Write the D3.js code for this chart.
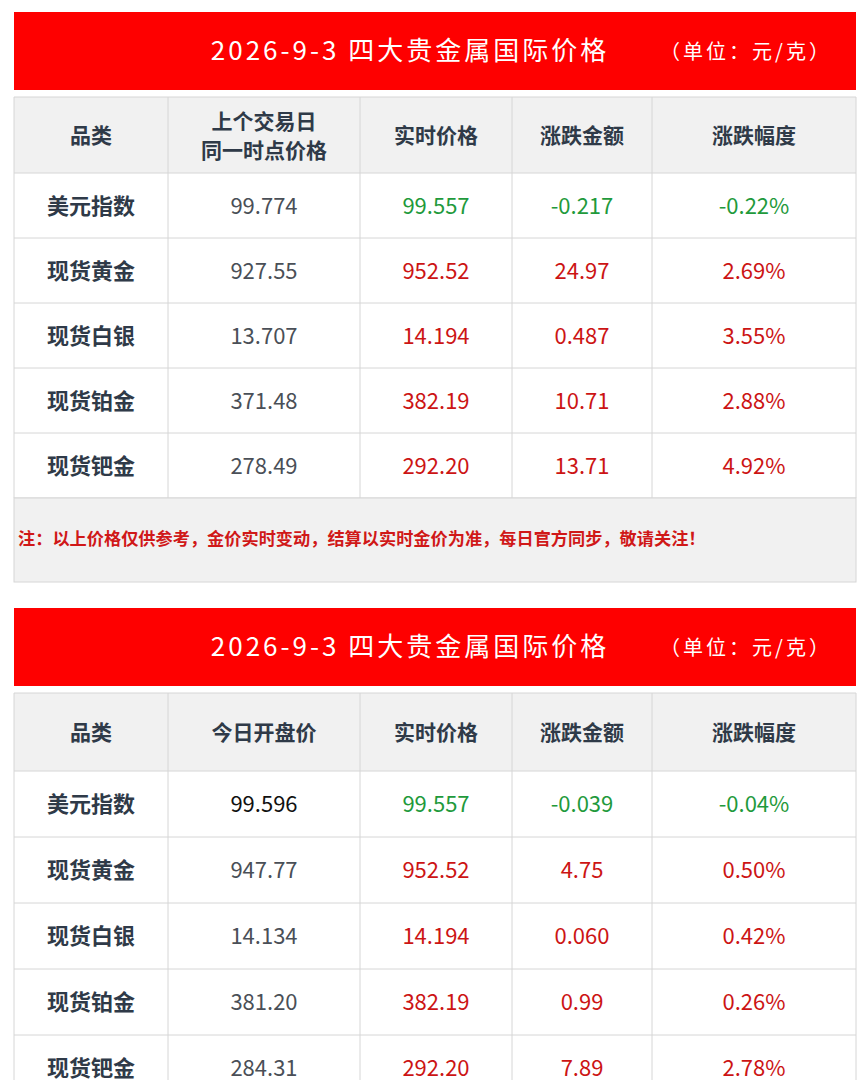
<!DOCTYPE html>
<html><head><meta charset="utf-8">
<script src="https://cdn.jsdelivr.net/npm/d3@7"></script>
<style>body{margin:0;background:#fff}svg{display:block}</style></head>
<body><script>
const categories=["美元指数","现货黄金","现货白银","现货铂金","现货钯金"];
const title="2026-9-3 四大贵金属国际价格";
const unit="（单位：元/克）";
const header1=["品类","上个交易日\n同一时点价格","实时价格","涨跌金额","涨跌幅度"];
const header2=["品类","今日开盘价","实时价格","涨跌金额","涨跌幅度"];
const prev1=["99.774","927.55","13.707","371.48","278.49"];
const now1=["99.557","952.52","14.194","382.19","292.20"];
const chg1=["-0.217","24.97","0.487","10.71","13.71"];
const pct1=["-0.22%","2.69%","3.55%","2.88%","4.92%"];
const open2=["99.596","947.77","14.134","381.20","284.31"];
const now2=["99.557","952.52","14.194","382.19","292.20"];
const chg2=["-0.039","4.75","0.060","0.99","7.89"];
const pct2=["-0.04%","0.50%","0.42%","0.26%","2.78%"];
const note="注：以上价格仅供参考，金价实时变动，结算以实时金价为准，每日官方同步，敬请关注！";

const W=858,H=1080;
const svg=d3.select("body").append("svg").attr("width",W).attr("height",H);
const font="'Noto Sans CJK SC','Noto Sans',sans-serif";
const xb=[14,168,360,512,652,856];
const GREEN="#1f9a3c",RED="#cc1414",GRAY="#4a4f57",DARK="#2f3a48";

function table(y0,header,cols,opts){
  const g=svg.append("g");
  g.append("rect").attr("x",14).attr("y",y0).attr("width",842).attr("height",78).attr("fill","#fe0000");
  g.append("text").attr("x",410).attr("y",y0+48).attr("text-anchor","middle").attr("font-family",font)
   .attr("font-size",26).attr("fill","#fff").attr("letter-spacing",3).text(title);
  g.append("text").attr("x",746).attr("y",y0+47).attr("text-anchor","middle").attr("font-family",font)
   .attr("font-size",20).attr("fill","#fff").attr("letter-spacing",3).text(unit);
  const hy=y0+85, hh=opts.hh, rh=opts.rh;
  const rowTop=i=>hy+hh+i*rh;
  g.append("rect").attr("x",14).attr("y",hy).attr("width",842).attr("height",hh).attr("fill","#f1f1f1");
  g.selectAll(".r").data(categories).join("rect").attr("x",14).attr("y",(d,i)=>rowTop(i))
   .attr("width",842).attr("height",rh).attr("fill","#fff");
  header.forEach((h,j)=>{
    const lines=h.split("\n"); const cx=(xb[j]+xb[j+1])/2;
    lines.forEach((l,k)=>g.append("text").attr("x",cx).attr("y",hy+hh/2+8+(k-(lines.length-1)/2)*29)
      .attr("text-anchor","middle").attr("font-family",font).attr("font-weight","bold").attr("font-size",21).attr("fill",DARK).text(l));
  });
  categories.forEach((c,i)=>{
    const cy=rowTop(i)+rh/2+8;
    g.append("text").attr("x",(xb[0]+xb[1])/2).attr("y",cy).attr("text-anchor","middle").attr("font-family",font)
     .attr("font-weight","bold").attr("font-size",22).attr("fill",DARK).text(c);
    cols.forEach((col,j)=>{
      g.append("text").attr("x",(xb[j+1]+xb[j+2])/2).attr("y",cy).attr("text-anchor","middle").attr("font-family",font)
       .attr("font-size",22).attr("fill",opts.color(i,j)).text(col[i]);
    });
  });
  const bottom=rowTop(5);
  for(let i=-1;i<=5;i++){const yy=i<0?hy:rowTop(i);
    g.append("line").attr("x1",14).attr("x2",856).attr("y1",yy).attr("y2",yy).attr("stroke","#d6d6d6");}
  xb.forEach(x=>g.append("line").attr("x1",x).attr("x2",x).attr("y1",hy).attr("y2",bottom).attr("stroke","#d6d6d6"));
  return bottom;
}
const b1=table(12,header1,[prev1,now1,chg1,pct1],{hh:76,rh:65,color:(i,j)=>j===0?GRAY:(i===0?GREEN:RED)});
svg.append("rect").attr("x",14).attr("y",b1).attr("width",842).attr("height",84).attr("fill","#f1f1f1").attr("stroke","#d6d6d6");
svg.append("text").attr("x",18).attr("y",b1+47).attr("font-family",font).attr("font-weight","bold").attr("font-size",17.2)
 .attr("fill","#d01818").text(note);
table(608,header2,[open2,now2,chg2,pct2],{hh:78,rh:66,color:(i,j)=>j===0?(i===0?"#111":GRAY):(i===0?GREEN:RED)});
</script></body></html>
